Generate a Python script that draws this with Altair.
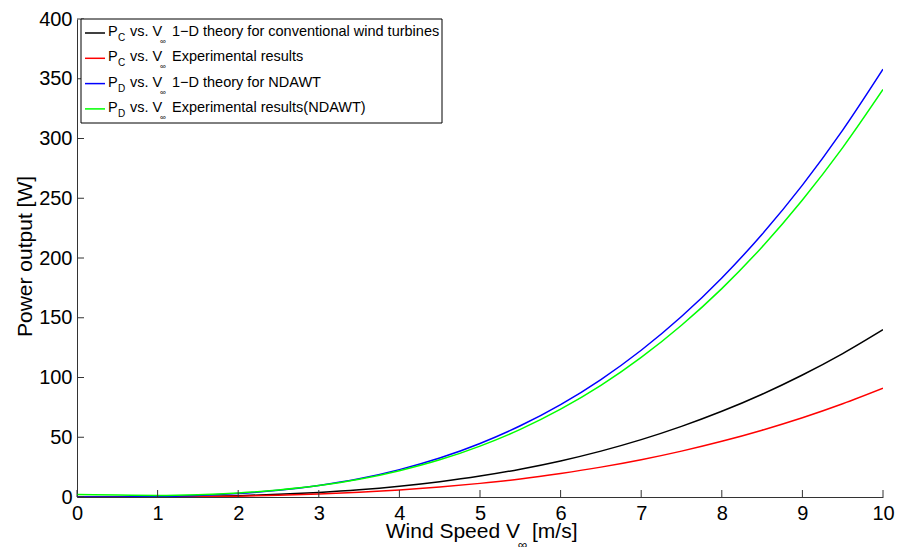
import altair as alt
import pandas as pd

# ---------------- data ----------------
wind_speed = [0, 0.5, 1, 1.5, 2, 2.5, 3, 3.5, 4, 4.5, 5, 5.5, 6, 6.5, 7, 7.5, 8, 8.5, 9, 9.5, 10]
pc_theory = [0.0, 0.02, 0.14, 0.47, 1.1, 2.2, 3.8, 6.0, 9.0, 12.8, 17.5, 23.3, 30.2, 38.4, 48.0, 59.1, 71.7, 86.0, 102.1, 120.0, 140.0]
pc_exp = [0.0, 0.01, 0.09, 0.31, 0.73, 1.4, 2.5, 3.9, 5.8, 8.3, 11.4, 15.1, 19.7, 25.0, 31.2, 38.4, 46.6, 55.9, 66.3, 78.0, 91.0]
pd_theory = [0.0, 0.04, 0.36, 1.2, 2.9, 5.6, 9.7, 15.3, 22.9, 32.6, 44.8, 59.6, 77.3, 98.3, 122.8, 151.0, 183.3, 219.9, 261.0, 307.0, 358.0]
pd_exp = [2.0, 1.6, 1.3, 1.9, 3.4, 5.9, 9.6, 14.8, 22.0, 31.1, 42.6, 56.6, 73.5, 93.4, 116.8, 143.7, 174.4, 209.3, 248.6, 292.4, 341.0]

series_keys = ["pc_theory", "pc_exp", "pd_theory", "pd_exp"]
series_colors = ["#000000", "#ff0000", "#0000ff", "#00ff00"]
legend_sub = ["C", "C", "D", "D"]
legend_rest = [
    "1\u2212D theory for conventional wind turbines",
    "Experimental results",
    "1\u2212D theory for NDAWT",
    "Experimental results(NDAWT)",
]
x_ticks = list(range(0, 11))
y_ticks = list(range(0, 401, 50))

# ---------------- layout ----------------
W, H = 806, 478
FONT = "Liberation Sans"
AXIS_COLOR = "#333333"

x_scale = alt.Scale(domain=[0, 10], nice=False, zero=False)
y_scale = alt.Scale(domain=[0, 400], nice=False)
x_axis = alt.Axis(values=x_ticks, title=None, labelPadding=6)
y_axis = alt.Axis(values=y_ticks, title=None, labelPadding=5)

all_series = [pc_theory, pc_exp, pd_theory, pd_exp]

layers = []
for key, vals, col in zip(series_keys, all_series, series_colors):
    d = pd.DataFrame({"v": wind_speed, "p": vals})
    layers.append(
        alt.Chart(d).mark_line(color=col, strokeWidth=1.5, interpolate="monotone", clip=True).encode(
            x=alt.X("v:Q", scale=x_scale, axis=x_axis),
            y=alt.Y("p:Q", scale=y_scale, axis=y_axis),
        )
    )

# inward ticks (MATLAB style)
layers.append(
    alt.Chart(pd.DataFrame({"v": x_ticks})).mark_rule(color=AXIS_COLOR, strokeWidth=1).encode(
        x=alt.X("v:Q", scale=x_scale, axis=x_axis),
        y=alt.value(H),
        y2=alt.value(H - 7),
    )
)
layers.append(
    alt.Chart(pd.DataFrame({"p": y_ticks})).mark_rule(color=AXIS_COLOR, strokeWidth=1).encode(
        y=alt.Y("p:Q", scale=y_scale, axis=y_axis),
        x=alt.value(0),
        x2=alt.value(7),
    )
)


def text_layer(txt, x, y, size, align="left", baseline="middle", angle=0):
    return alt.Chart(pd.DataFrame({"t": [txt]})).mark_text(
        font=FONT, fontSize=size, align=align, baseline=baseline, angle=angle, color="black"
    ).encode(text="t:N", x=alt.value(x), y=alt.value(y))


# axis titles
layers.append(text_layer("Wind Speed V", 443, 519, 21, align="right", baseline="alphabetic"))
layers.append(text_layer("\u221e", 441, 526, 13, align="left", baseline="middle"))
layers.append(text_layer("[m/s]", 455, 519, 21, align="left", baseline="alphabetic"))
layers.append(text_layer("Power output [W]", -45, 237.5, 21, align="center", baseline="alphabetic", angle=270))

# legend box
layers.append(
    alt.Chart(pd.DataFrame({"t": [0]})).mark_rect(fill="white", stroke="black", strokeWidth=1).encode(
        x=alt.value(4), x2=alt.value(365), y=alt.value(0), y2=alt.value(104)
    )
)
for i, (col, sub, rest) in enumerate(zip(series_colors, legend_sub, legend_rest)):
    yy = 14 + 25.3 * i
    layers.append(
        alt.Chart(pd.DataFrame({"t": [0]})).mark_rule(color=col, strokeWidth=1.5).encode(
            x=alt.value(8), x2=alt.value(28), y=alt.value(yy)
        )
    )
    layers.append(text_layer("P", 31, yy - 1, 14.5))
    layers.append(text_layer(sub, 41, yy + 5, 10))
    layers.append(text_layer("vs. V", 53, yy - 1, 14.5))
    layers.append(text_layer("\u221e", 83, yy + 9, 8))
    layers.append(text_layer(rest, 95, yy - 1, 14.5))

chart = (
    alt.layer(*layers)
    .properties(
        width=W,
        height=H,
        padding={"left": 77, "top": 19, "right": 14, "bottom": 50},
        autosize=alt.AutoSizeParams(type="none"),
        background="white",
    )
    .configure_view(stroke=None)
    .configure_axis(
        labelFont=FONT,
        labelFontSize=20,
        labelColor="black",
        domainColor=AXIS_COLOR,
        domainWidth=1,
        ticks=False,
        grid=False,
        labelFlush=False,
        labelOverlap=False,
    )
)

chart.save("out.html", embed_options={"renderer": "svg", "actions": False})
